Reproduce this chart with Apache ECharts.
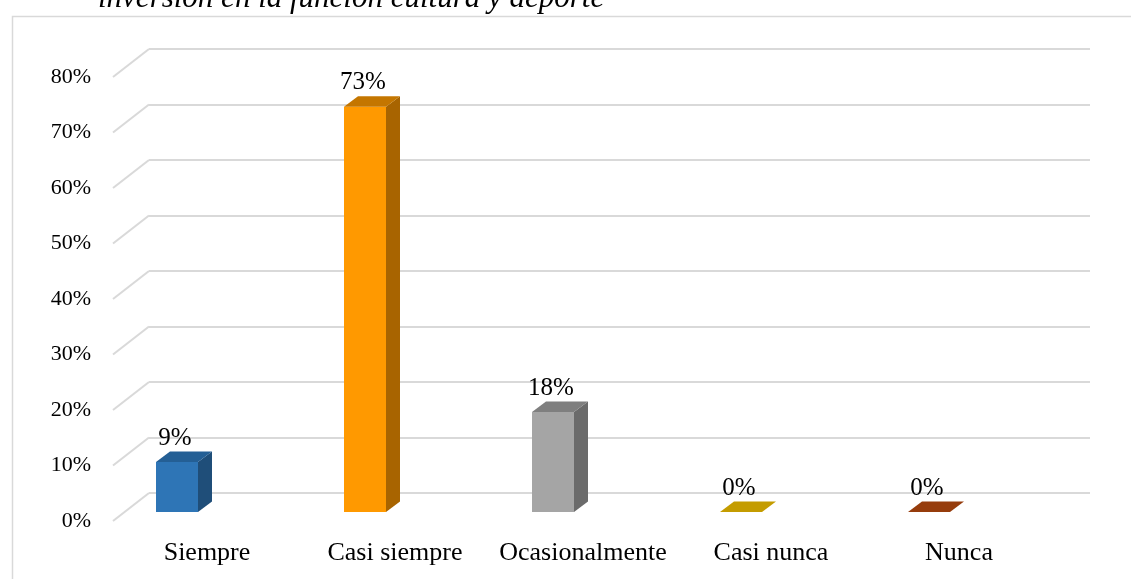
<!DOCTYPE html>
<html><head><meta charset="utf-8">
<script src="https://cdn.jsdelivr.net/npm/echarts@6/dist/echarts.min.js"></script>
<style>html,body{margin:0;padding:0;background:#fff}#c{width:1131px;height:579px}</style>
</head><body><div id="c"></div>
<script>
// ---- data ----
const categories = ['Siempre', 'Casi siempre', 'Ocasionalmente', 'Casi nunca', 'Nunca'];
const values = [0.09, 0.73, 0.18, 0, 0];
const yTicks = [0, 0.1, 0.2, 0.3, 0.4, 0.5, 0.6, 0.7, 0.8];
const titleText = 'inversión en la función cultura y deporte';

// ---- styles ----
const palette = [
  {front: '#2e75b6', side: '#1f4e79', top: '#245f95'},
  {front: '#ff9900', side: '#a86400', top: '#c47600'},
  {front: '#a5a5a5', side: '#6b6b6b', top: '#7f7f7f'},
  {front: '#c9a000', side: '#8f7200', top: '#c49c00'},
  {front: '#9e480e', side: '#6b300a', top: '#963c0c'}
];
const DX = 14, DY = -10.5, BW = 42;
const GRID = '#d9d9d9';
const FONT = '"Liberation Serif", "Times New Roman", serif';
const pct = v => Math.round(v * 100) + '%';

const chart = echarts.init(document.getElementById('c'), null, {renderer: 'canvas'});

function renderBar(params, api) {
  const i = params.dataIndex;
  const v = api.value(1);
  const base = api.coord([api.value(0), 0]);
  const top = api.coord([api.value(0), v]);
  const x0 = base[0] - BW / 2, x1 = base[0] + BW / 2, yb = base[1], yt = top[1];
  const c = palette[i];
  const children = [];
  if (yb - yt > 0.5) {
    children.push({type: 'rect', shape: {x: x0, y: yt, width: BW, height: yb - yt}, style: {fill: c.front}});
    children.push({type: 'polygon', shape: {points: [[x1, yt], [x1 + DX, yt + DY], [x1 + DX, yb + DY], [x1, yb]]}, style: {fill: c.side}});
  }
  children.push({type: 'polygon', shape: {points: [[x0, yt], [x0 + DX, yt + DY], [x1 + DX, yt + DY], [x1, yt]]}, style: {fill: c.top}});
  children.push({type: 'text', style: {text: pct(v), x: base[0] - 2, y: yt - 24, align: 'center', verticalAlign: 'middle',
    font: '25px ' + FONT, fill: '#000'}});
  return {type: 'group', children};
}

function renderDiag(params, api) {
  const p = api.coord([0, api.value(1)]);
  return {type: 'line', shape: {x1: p[0], y1: p[1], x2: p[0] - 36, y2: p[1] + 28},
    style: {stroke: GRID, lineWidth: 2}};
}

chart.setOption({
  animation: false,
  backgroundColor: '#fff',
  graphic: [
    {type: 'rect', left: 10, top: 14, shape: {x: 0, y: 0, width: 1200, height: 700},
      style: {fill: 'none', stroke: GRID, lineWidth: 1.5}, silent: true, z: -1},
    {type: 'text', x: 98, y: -1.5, style: {text: titleText, font: 'italic 31px ' + FONT, fill: '#000',
      align: 'left', verticalAlign: 'middle', textAlign: 'left', textVerticalAlign: 'middle'}}
  ],
  grid: [
    // bars plane
    {left: 83, right: 108, top: 68, bottom: 67},
    // back wall
    {left: 149, right: 41, top: 49, bottom: 86},
    // front plane (labels)
    {left: 113, right: 78, top: 77, bottom: 58}
  ],
  xAxis: [
    {gridIndex: 0, type: 'category', data: categories, show: false},
    {gridIndex: 1, type: 'value', min: 0, max: 1, show: false},
    {gridIndex: 2, type: 'category', data: categories, axisLine: {show: false}, axisTick: {show: false},
      axisLabel: {interval: 0, fontSize: 26, fontFamily: FONT, color: '#000', margin: 19}}
  ],
  yAxis: [
    {gridIndex: 0, type: 'value', min: 0, max: 0.8, show: false},
    {gridIndex: 1, type: 'value', min: 0, max: 0.8, interval: 0.1, axisLabel: {show: false},
      axisLine: {show: false}, axisTick: {show: false}, splitLine: {lineStyle: {color: GRID, width: 2}}},
    {gridIndex: 2, type: 'value', min: 0, max: 0.8, interval: 0.1, splitLine: {show: false},
      axisLine: {show: false}, axisTick: {show: false},
      axisLabel: {formatter: v => pct(v), fontSize: 22, fontFamily: FONT, color: '#000', margin: 22}}
  ],
  series: [
    {type: 'custom', xAxisIndex: 1, yAxisIndex: 1, data: yTicks.map(t => [0, t]), renderItem: renderDiag, clip: false, silent: true, z: 1},
    {type: 'custom', xAxisIndex: 0, yAxisIndex: 0, data: values.map((v, i) => [i, v]), renderItem: renderBar, clip: false, z: 3}
  ]
});
</script>
</body></html>
